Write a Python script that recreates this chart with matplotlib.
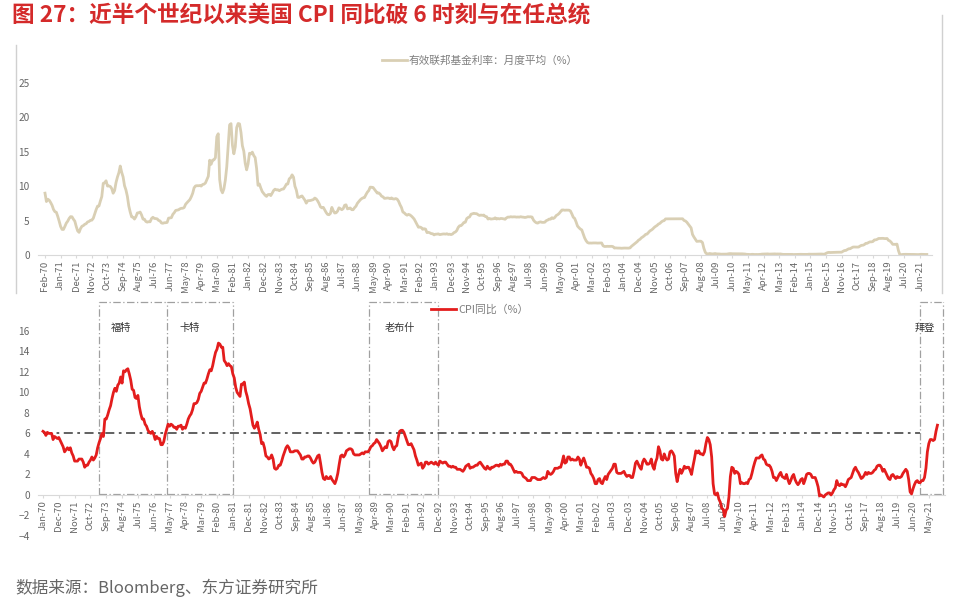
import numpy as np
import pandas as pd
import matplotlib
matplotlib.use("Agg")
import matplotlib.pyplot as plt
from matplotlib.lines import Line2D

plt.rcParams['font.family'] = ['Noto Sans CJK SC', 'DejaVu Sans']

# Effective fed funds rate, monthly average (%), Feb-70 .. Nov-21
fed_funds = [
    8.98, 7.76, 8.10, 7.95, 7.61, 7.21, 6.61, 6.29, 6.20, 5.60, 4.90,          # 1970
    4.14, 3.72, 3.71, 4.15, 4.63, 4.91, 5.31, 5.57, 5.55, 5.20, 4.91, 4.14,    # 1971
    3.50, 3.29, 3.83, 4.17, 4.27, 4.46, 4.55, 4.80, 4.87, 5.04, 5.06, 5.33,    # 1972
    5.94, 6.58, 7.09, 7.12, 7.84, 8.49, 10.40, 10.50, 10.78, 10.01, 10.03, 9.95,  # 1973
    9.65, 8.97, 9.35, 10.51, 11.31, 11.93, 12.92, 12.01, 11.34, 10.06, 9.45, 8.53,  # 1974
    7.13, 6.24, 5.54, 5.49, 5.22, 5.55, 6.10, 6.14, 6.24, 5.82, 5.22, 5.20,    # 1975
    4.87, 4.77, 4.84, 4.82, 5.29, 5.48, 5.31, 5.29, 5.25, 5.02, 4.95, 4.65,    # 1976
    4.61, 4.68, 4.69, 4.73, 5.35, 5.39, 5.42, 5.90, 6.14, 6.47, 6.51, 6.56,    # 1977
    6.70, 6.78, 6.79, 6.89, 7.36, 7.60, 7.81, 8.04, 8.45, 8.96, 9.76, 10.03,   # 1978
    10.07, 10.06, 10.09, 10.01, 10.24, 10.29, 10.47, 10.94, 11.43, 13.77, 13.18, 13.78,  # 1979
    13.82, 14.13, 17.19, 17.61, 10.98, 9.47, 9.03, 9.61, 10.87, 12.81, 15.85, 18.90,  # 1980
    19.08, 15.93, 14.70, 15.72, 18.52, 19.10, 19.04, 17.82, 15.87, 15.08, 13.31, 12.37,  # 1981
    13.22, 14.78, 14.68, 14.94, 14.45, 14.15, 12.59, 10.12, 10.31, 9.71, 9.20, 8.95,  # 1982
    8.68, 8.51, 8.77, 8.80, 8.63, 8.98, 9.37, 9.56, 9.45, 9.48, 9.34, 9.47,    # 1983
    9.56, 9.59, 9.91, 10.29, 10.32, 11.06, 11.23, 11.64, 11.30, 9.99, 9.43, 8.38,  # 1984
    8.35, 8.50, 8.58, 8.27, 7.97, 7.53, 7.88, 7.90, 7.92, 7.99, 8.05, 8.27,    # 1985
    8.14, 7.86, 7.48, 6.99, 6.85, 6.92, 6.56, 6.17, 5.89, 5.85, 6.04, 6.91,    # 1986
    6.43, 6.10, 6.13, 6.37, 6.85, 6.73, 6.58, 6.73, 7.22, 7.29, 6.69, 6.77,    # 1987
    6.83, 6.58, 6.58, 6.87, 7.09, 7.51, 7.75, 8.01, 8.19, 8.30, 8.35, 8.76,    # 1988
    9.12, 9.36, 9.85, 9.84, 9.81, 9.53, 9.24, 8.99, 9.02, 8.84, 8.55, 8.45,    # 1989
    8.23, 8.24, 8.28, 8.26, 8.18, 8.29, 8.15, 8.13, 8.20, 8.11, 7.81, 7.31,    # 1990
    6.91, 6.25, 6.12, 5.91, 5.78, 5.90, 5.82, 5.66, 5.45, 5.21, 4.81, 4.43,    # 1991
    4.03, 4.06, 3.98, 3.73, 3.82, 3.76, 3.25, 3.30, 3.22, 3.10, 3.09, 2.92,    # 1992
    3.02, 3.03, 3.07, 2.96, 3.00, 3.04, 3.06, 3.03, 3.09, 2.99, 3.02, 2.96,    # 1993
    3.05, 3.25, 3.34, 3.56, 4.01, 4.25, 4.26, 4.47, 4.73, 4.76, 5.29, 5.45,    # 1994
    5.53, 5.92, 5.98, 6.05, 6.01, 6.00, 5.85, 5.74, 5.80, 5.76, 5.80, 5.60,    # 1995
    5.56, 5.22, 5.31, 5.22, 5.24, 5.27, 5.40, 5.22, 5.30, 5.24, 5.31, 5.29,    # 1996
    5.25, 5.19, 5.39, 5.51, 5.50, 5.56, 5.52, 5.54, 5.54, 5.50, 5.52, 5.50,    # 1997
    5.56, 5.51, 5.49, 5.45, 5.49, 5.56, 5.54, 5.55, 5.51, 5.07, 4.83, 4.68,    # 1998
    4.63, 4.76, 4.81, 4.74, 4.74, 4.76, 4.99, 5.07, 5.22, 5.20, 5.42, 5.30,    # 1999
    5.45, 5.73, 5.85, 6.02, 6.27, 6.53, 6.54, 6.50, 6.52, 6.51, 6.51, 6.40,    # 2000
    5.98, 5.49, 5.31, 4.80, 4.21, 3.97, 3.77, 3.65, 3.07, 2.49, 2.09, 1.82,    # 2001
    1.73, 1.74, 1.73, 1.75, 1.75, 1.75, 1.73, 1.74, 1.75, 1.75, 1.34, 1.24,    # 2002
    1.24, 1.26, 1.25, 1.26, 1.26, 1.22, 1.01, 1.03, 1.01, 1.01, 1.00, 0.98,    # 2003
    1.00, 1.01, 1.00, 1.00, 1.00, 1.03, 1.26, 1.43, 1.61, 1.76, 1.93, 2.16,    # 2004
    2.28, 2.50, 2.63, 2.79, 3.00, 3.04, 3.26, 3.50, 3.62, 3.78, 4.00, 4.16,    # 2005
    4.29, 4.49, 4.59, 4.79, 4.94, 4.99, 5.24, 5.25, 5.25, 5.25, 5.25, 5.24,    # 2006
    5.25, 5.26, 5.26, 5.25, 5.25, 5.25, 5.26, 5.02, 4.94, 4.76, 4.49, 4.24,    # 2007
    3.94, 2.98, 2.61, 2.28, 1.98, 2.00, 2.01, 2.00, 1.81, 0.97, 0.39, 0.16,    # 2008
    0.15, 0.22, 0.18, 0.15, 0.18, 0.21, 0.16, 0.16, 0.15, 0.12, 0.12, 0.12,    # 2009
    0.11, 0.13, 0.16, 0.20, 0.20, 0.18, 0.18, 0.19, 0.19, 0.19, 0.19, 0.18,    # 2010
    0.17, 0.16, 0.14, 0.10, 0.09, 0.09, 0.07, 0.10, 0.08, 0.07, 0.08, 0.07,    # 2011
    0.08, 0.10, 0.13, 0.14, 0.16, 0.16, 0.16, 0.13, 0.14, 0.16, 0.16, 0.16,    # 2012
    0.14, 0.15, 0.14, 0.15, 0.11, 0.09, 0.09, 0.08, 0.08, 0.09, 0.08, 0.09,    # 2013
    0.07, 0.07, 0.08, 0.09, 0.09, 0.10, 0.09, 0.09, 0.09, 0.09, 0.09, 0.12,    # 2014
    0.11, 0.11, 0.11, 0.12, 0.12, 0.13, 0.13, 0.14, 0.14, 0.12, 0.12, 0.24,    # 2015
    0.34, 0.38, 0.36, 0.37, 0.37, 0.38, 0.39, 0.40, 0.40, 0.40, 0.41, 0.54,    # 2016
    0.65, 0.66, 0.79, 0.90, 0.91, 1.04, 1.15, 1.16, 1.15, 1.15, 1.16, 1.30,    # 2017
    1.41, 1.42, 1.51, 1.69, 1.70, 1.82, 1.91, 1.91, 1.95, 2.19, 2.20, 2.27,    # 2018
    2.40, 2.40, 2.41, 2.42, 2.39, 2.38, 2.40, 2.13, 2.04, 1.83, 1.55, 1.55,    # 2019
    1.55, 1.58, 0.65, 0.05, 0.05, 0.08, 0.09, 0.10, 0.09, 0.09, 0.09, 0.09,    # 2020
    0.09, 0.08, 0.07, 0.07, 0.06, 0.08, 0.10, 0.09, 0.08, 0.08, 0.08,          # 2021
]

# US CPI year over year (%), Jan-70 .. Nov-21
cpi_yoy = [
    6.2, 6.1, 5.8, 6.1, 6.0, 6.0, 6.0, 5.4, 5.7, 5.6, 5.5, 5.6,    # 1970
    5.3, 5.0, 4.7, 4.2, 4.4, 4.6, 4.4, 4.6, 4.1, 3.8, 3.3, 3.3,    # 1971
    3.3, 3.5, 3.5, 3.5, 3.2, 2.7, 2.9, 2.9, 3.2, 3.4, 3.7, 3.4,    # 1972
    3.6, 3.9, 4.6, 5.1, 5.5, 6.0, 5.7, 7.4, 7.4, 7.8, 8.3, 8.7,    # 1973
    9.4, 10.0, 10.4, 10.1, 10.7, 10.9, 11.5, 10.9, 12.1, 12.0, 12.2, 12.3,  # 1974
    11.8, 11.2, 10.3, 10.2, 9.5, 9.4, 9.7, 8.6, 7.9, 7.4, 7.4, 6.9,  # 1975
    6.7, 6.3, 6.1, 6.0, 6.2, 5.9, 5.4, 5.7, 5.5, 5.5, 4.9, 4.9,    # 1976
    5.2, 5.9, 6.4, 6.9, 6.7, 6.9, 6.8, 6.6, 6.6, 6.4, 6.7, 6.7,    # 1977
    6.8, 6.4, 6.6, 6.5, 6.9, 7.4, 7.7, 7.9, 8.3, 8.9, 8.9, 9.0,    # 1978
    9.3, 9.9, 10.1, 10.5, 10.9, 10.9, 11.3, 11.8, 12.2, 12.1, 12.6, 13.3,  # 1979
    13.9, 14.2, 14.8, 14.7, 14.4, 14.4, 13.1, 12.9, 12.6, 12.8, 12.6, 12.5,  # 1980
    11.8, 11.4, 10.5, 10.0, 9.8, 9.6, 10.8, 10.8, 11.0, 10.1, 9.6, 8.9,  # 1981
    8.4, 7.6, 6.8, 6.5, 6.7, 7.1, 6.4, 5.9, 5.0, 5.1, 4.6, 3.8,    # 1982
    3.7, 3.5, 3.6, 3.9, 3.5, 2.6, 2.5, 2.6, 2.9, 2.9, 3.3, 3.8,    # 1983
    4.2, 4.6, 4.8, 4.6, 4.2, 4.2, 4.2, 4.3, 4.3, 4.3, 4.1, 3.9,    # 1984
    3.5, 3.5, 3.7, 3.7, 3.8, 3.8, 3.6, 3.3, 3.1, 3.2, 3.5, 3.8,    # 1985
    3.9, 3.1, 2.2, 1.6, 1.5, 1.8, 1.6, 1.6, 1.8, 1.5, 1.3, 1.1,    # 1986
    1.5, 2.1, 3.0, 3.8, 3.9, 3.7, 3.9, 4.3, 4.4, 4.5, 4.5, 4.4,    # 1987
    4.0, 3.9, 3.9, 3.9, 3.9, 4.0, 4.1, 4.0, 4.2, 4.2, 4.2, 4.4,    # 1988
    4.7, 4.8, 5.0, 5.1, 5.4, 5.2, 5.0, 4.7, 4.3, 4.5, 4.7, 4.6,    # 1989
    5.2, 5.3, 5.2, 4.7, 4.4, 4.7, 4.8, 5.6, 6.2, 6.3, 6.3, 6.1,    # 1990
    5.7, 5.3, 4.9, 4.9, 5.0, 4.7, 4.4, 3.8, 3.4, 2.9, 3.0, 3.1,    # 1991
    2.6, 2.8, 3.2, 3.2, 3.0, 3.1, 3.2, 3.1, 3.0, 3.2, 3.0, 2.9,    # 1992
    3.3, 3.2, 3.1, 3.2, 3.2, 3.0, 2.8, 2.8, 2.7, 2.8, 2.7, 2.7,    # 1993
    2.5, 2.5, 2.5, 2.4, 2.3, 2.5, 2.8, 2.9, 3.0, 2.6, 2.7, 2.7,    # 1994
    2.8, 2.9, 2.9, 3.1, 3.2, 3.0, 2.8, 2.6, 2.5, 2.8, 2.6, 2.5,    # 1995
    2.7, 2.7, 2.8, 2.9, 2.9, 2.8, 3.0, 2.9, 3.0, 3.0, 3.3, 3.3,    # 1996
    3.0, 3.0, 2.8, 2.5, 2.2, 2.3, 2.2, 2.2, 2.2, 2.1, 1.8, 1.7,    # 1997
    1.6, 1.4, 1.4, 1.4, 1.7, 1.7, 1.7, 1.6, 1.5, 1.5, 1.5, 1.6,    # 1998
    1.7, 1.6, 1.7, 2.3, 2.1, 2.0, 2.1, 2.3, 2.6, 2.6, 2.6, 2.7,    # 1999
    2.7, 3.2, 3.8, 3.1, 3.2, 3.7, 3.7, 3.4, 3.5, 3.4, 3.4, 3.4,    # 2000
    3.7, 3.5, 2.9, 3.3, 3.6, 3.2, 2.7, 2.7, 2.6, 2.1, 1.9, 1.6,    # 2001
    1.1, 1.1, 1.5, 1.6, 1.2, 1.1, 1.5, 1.8, 1.5, 2.0, 2.2, 2.4,    # 2002
    2.6, 3.0, 3.0, 2.2, 2.1, 2.1, 2.1, 2.2, 2.3, 2.0, 1.8, 1.9,    # 2003
    1.9, 1.7, 1.7, 2.3, 3.1, 3.3, 3.0, 2.7, 2.5, 3.2, 3.5, 3.3,    # 2004
    3.0, 3.0, 3.1, 3.5, 2.8, 2.5, 3.2, 3.6, 4.7, 4.3, 3.5, 3.4,    # 2005
    4.0, 3.6, 3.4, 3.5, 4.2, 4.3, 4.1, 3.8, 2.1, 1.3, 2.0, 2.5,    # 2006
    2.1, 2.4, 2.8, 2.6, 2.7, 2.7, 2.4, 2.0, 2.8, 3.5, 4.3, 4.1,    # 2007
    4.3, 4.0, 4.0, 3.9, 4.2, 5.0, 5.6, 5.4, 4.9, 3.7, 1.1, 0.1,    # 2008
    0.0, 0.2, -0.4, -0.7, -1.3, -1.4, -2.1, -1.5, -1.3, -0.2, 1.8, 2.7,  # 2009
    2.6, 2.1, 2.3, 2.2, 2.0, 1.1, 1.2, 1.1, 1.1, 1.2, 1.1, 1.5,    # 2010
    1.6, 2.1, 2.7, 3.2, 3.6, 3.6, 3.6, 3.8, 3.9, 3.5, 3.4, 3.0,    # 2011
    2.9, 2.9, 2.7, 2.3, 1.7, 1.7, 1.4, 1.7, 2.0, 2.2, 1.8, 1.7,    # 2012
    1.6, 2.0, 1.5, 1.1, 1.4, 1.8, 2.0, 1.5, 1.2, 1.0, 1.2, 1.5,    # 2013
    1.6, 1.1, 1.5, 2.0, 2.1, 2.1, 2.0, 1.7, 1.7, 1.7, 1.3, 0.8,    # 2014
    -0.1, 0.0, -0.1, -0.2, 0.0, 0.1, 0.2, 0.2, 0.0, 0.2, 0.5, 0.7,  # 2015
    1.4, 1.0, 0.9, 1.1, 1.0, 1.0, 0.8, 1.1, 1.5, 1.6, 1.7, 2.1,    # 2016
    2.5, 2.7, 2.4, 2.2, 1.9, 1.6, 1.7, 1.9, 2.2, 2.0, 2.2, 2.1,    # 2017
    2.1, 2.2, 2.4, 2.5, 2.8, 2.9, 2.9, 2.7, 2.3, 2.5, 2.2, 1.9,    # 2018
    1.6, 1.5, 1.9, 2.0, 1.8, 1.6, 1.8, 1.7, 1.7, 1.8, 2.1, 2.3,    # 2019
    2.5, 2.3, 1.5, 0.3, 0.1, 0.6, 1.0, 1.3, 1.4, 1.2, 1.2, 1.4,    # 2020
    1.4, 1.7, 2.6, 4.2, 5.0, 5.4, 5.4, 5.3, 5.4, 6.2, 6.8,         # 2021
]

# presidents in office when CPI broke 6%
presidents = ['福特', '卡特', '老布什', '拜登']
term_start = ['1973-04', '1977-03', '1988-12', '2020-11']
term_end = ['1977-03', '1981-01', '1992-12', '2022-03']
label_month = ['1974-07', '1978-07', '1990-09', '2021-02']
threshold = 6

fed_dates = pd.date_range('1970-02-01', periods=len(fed_funds), freq='MS')
cpi_dates = pd.date_range('1970-01-01', periods=len(cpi_yoy), freq='MS')


def month_idx(s, origin):
    d = pd.Timestamp(s + '-01')
    return (d.year - origin.year) * 12 + (d.month - origin.month)


W, H = 960, 603
fig = plt.figure(figsize=(W / 100, H / 100), dpi=100)


def px_box(left, right, top, bottom):
    return [left / W, 1 - bottom / H, (right - left) / W, (bottom - top) / H]


tick_color = '#666666'

# ---- top panel: fed funds rate
ax1 = fig.add_axes(px_box(38, 932, 45, 255))
x1 = np.arange(len(fed_funds))
ax1.plot(x1, fed_funds, color='#d9cfb4', lw=2.0, solid_joinstyle='round',
         label='有效联邦基金利率：月度平均（%）', clip_on=False)
ax1.set_xlim((38 - 45) / 1.42, (932 - 45) / 1.42)
ax1.set_ylim(0, 30.5)
ax1.set_yticks(range(0, 26, 5))
for s in ['top', 'right', 'left']:
    ax1.spines[s].set_visible(False)
ax1.spines['bottom'].set_color('#d9d9d9')
ticks1 = x1[::11]
ax1.set_xticks(ticks1)
ax1.set_xticklabels([fed_dates[i].strftime('%b-%y') for i in ticks1],
                    rotation=90, fontsize=6.8, color=tick_color)
ax1.tick_params(axis='y', length=0, labelsize=7.3, labelcolor=tick_color, pad=6)
ax1.tick_params(axis='x', length=2, color='#d9d9d9', pad=2)
ax1.legend(loc='center', bbox_to_anchor=(0.5, 0.9), bbox_transform=fig.transFigure,
           frameon=False, fontsize=7.7, labelcolor='#7f7f7f', handlelength=2.3,
           handletextpad=0.2)

# frame around the top chart
fig.add_artist(Line2D([16 / W, 16 / W], [1 - 45 / H, 1 - 293 / H], color='#d0d0d0', lw=1))
fig.add_artist(Line2D([942 / W, 942 / W], [1 - 15 / H, 1 - 293 / H], color='#d0d0d0', lw=1))

# ---- bottom panel: CPI yoy
ax2 = fig.add_axes(px_box(38, 945, 300, 536))
x2 = np.arange(len(cpi_yoy))
for s in ['top', 'right', 'left']:
    ax2.spines[s].set_visible(False)
ax2.spines['bottom'].set_position(('data', 0))
ax2.spines['bottom'].set_color('#d9d9d9')
ax2.set_xlim((38 - 43) / 1.438, (945 - 43) / 1.438)
ax2.set_ylim(-4, 19)
ax2.set_yticks(range(-4, 17, 2))

box_style = dict(color='#a0a0a0', lw=0.9, ls=(0, (6, 2, 1, 2)), zorder=1)
edges = set()
for name, s, e, lm in zip(presidents, term_start, term_end, label_month):
    a = month_idx(s, cpi_dates[0])
    b = month_idx(e, cpi_dates[0])
    ax2.plot([a, b], [18.8, 18.8], **box_style)
    ax2.plot([a, b], [0.05, 0.05], **box_style)
    edges.update([a, b])
    ax2.text(month_idx(lm, cpi_dates[0]), 16.3, name, ha='center', va='center',
             fontsize=7.3, color='#333333')
for xe in sorted(edges):
    ax2.plot([xe, xe], [0, 18.8], **box_style)

ax2.plot([0, month_idx(term_start[-1], cpi_dates[0])], [threshold, threshold],
         color='#555555', lw=1.3, ls=(0, (5, 2.5, 1.5, 2.5)), zorder=2)
ax2.plot(x2, cpi_yoy, color='#e31d1d', lw=2.0, label='CPI同比（%）', zorder=3)

ticks2 = x2[::11]
ax2.set_xticks(ticks2)
ax2.set_xticklabels([cpi_dates[i].strftime('%b-%y') for i in ticks2],
                    rotation=90, fontsize=6.8, color=tick_color)
ax2.tick_params(axis='y', length=0, labelsize=7.3, labelcolor=tick_color, pad=6)
ax2.tick_params(axis='x', length=2, color='#d9d9d9', pad=2)
ax2.legend(loc='center', bbox_to_anchor=(0.5, 1 - 310 / H), bbox_transform=fig.transFigure,
           frameon=False, fontsize=7.8, labelcolor='#7f7f7f', handlelength=2.3,
           handletextpad=0.2)

fig.text(12 / W, 1 - 15 / H, '图 27：近半个世纪以来美国 CPI 同比破 6 时刻与在任总统',
         fontsize=16.3, fontweight='bold', color='#d42a2a', ha='left', va='center')
fig.text(15 / W, 1 - 588 / H, '数据来源：Bloomberg、东方证券研究所',
         fontsize=12, color='#666666', ha='left', va='center')

fig.savefig('out.png', dpi=100)
